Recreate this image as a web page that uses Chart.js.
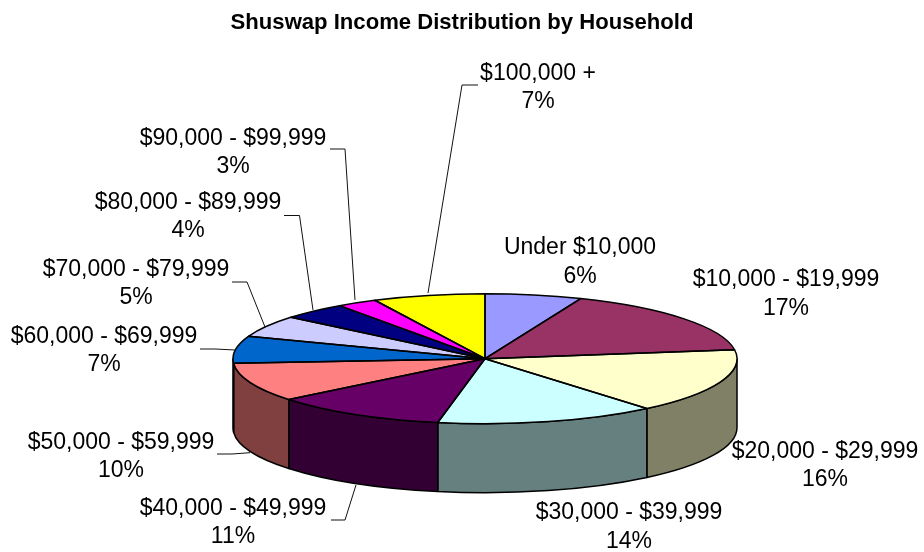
<!DOCTYPE html>
<html>
<head>
<meta charset="utf-8">
<style>html,body{margin:0;padding:0;background:#fff}canvas{display:block}</style>
<script src="https://cdn.jsdelivr.net/npm/chart.js@4"></script>
</head>
<body>
<canvas id="c" width="924" height="552"></canvas>
<script>
const chartTitle = 'Shuswap Income Distribution by Household';
const categories = ['Under $10,000','$10,000 - $19,999','$20,000 - $29,999','$30,000 - $39,999','$40,000 - $49,999','$50,000 - $59,999','$60,000 - $69,999','$70,000 - $79,999','$80,000 - $89,999','$90,000 - $99,999','$100,000 +'];
const shares = [6.2,16.6,16.1,14.1,11.2,9.7,6.7,5.4,4.2,2.6,7.2];
const topColors = ['#9999FF','#993366','#FFFFCC','#CCFFFF','#660066','#FF8080','#0066CC','#CCCCFF','#000080','#FF00FF','#FFFF00'];
const wallColors = ['#4D4D80','#4D1A33','#808066','#668080','#330033','#804040','#003366','#666680','#000040','#800080','#808000'];
const labelCenters = [[580,248],[786,280],[825,451.5],[629,513],[233,508.5],[121,442.5],[104,336.5],[136,269.5],[188,202.5],[233,138.5],[538,73.5]];
const leaders = [null,null,null,null,
  [[331,520],[345,520],[356,485]],
  [[217,454],[232,454],[250,452.7]],
  [[200,349],[215,349],[235,350]],
  [[232,282],[247,282],[265,327]],
  [[284,215.5],[299.5,215.5],[313,310]],
  [[330,149],[345,149],[355,300]],
  [[478,85],[462,85],[428,293]]];
const FONT = '"Liberation Sans", Arial, sans-serif';
const G = {cx:485, cy:358.7, rx:252, ry:65, depth:69};

const pie3d = {
  id:'pie3d',
  beforeDatasetsDraw(chart){
    const ctx = chart.ctx, arcs = chart.getDatasetMeta(0).data;
    ctx.save();
    ctx.lineWidth = 1.5; ctx.strokeStyle = '#000'; ctx.lineJoin = 'round';
    arcs.forEach((arc,i)=>{
      const p = arc.getProps(['startAngle','endAngle']);
      const a = Math.max(p.startAngle,0), b = Math.min(p.endAngle,Math.PI);
      if (b <= a) return;
      ctx.beginPath();
      ctx.ellipse(G.cx,G.cy,G.rx,G.ry,0,a,b);
      ctx.ellipse(G.cx,G.cy+G.depth,G.rx,G.ry,0,b,a,true);
      ctx.closePath();
      ctx.fillStyle = wallColors[i];
      ctx.fill(); ctx.stroke();
    });
    ctx.restore();
    const a0 = arcs[0].getProps(['x','y','outerRadius']);
    ctx.save();
    ctx.translate(G.cx,G.cy);
    ctx.scale(G.rx/a0.outerRadius,G.ry/a0.outerRadius);
    ctx.translate(-a0.x,-a0.y);
  },
  afterDatasetsDraw(chart){
    const ctx = chart.ctx, arcs = chart.getDatasetMeta(0).data;
    ctx.restore();
    ctx.save();
    ctx.lineWidth = 1.5; ctx.strokeStyle = '#000'; ctx.lineJoin = 'round';
    arcs.forEach(arc=>{
      const p = arc.getProps(['startAngle','endAngle']);
      ctx.beginPath();
      ctx.moveTo(G.cx,G.cy);
      ctx.ellipse(G.cx,G.cy,G.rx,G.ry,0,p.startAngle,p.endAngle);
      ctx.closePath();
      ctx.stroke();
    });
    ctx.lineWidth = 1; ctx.strokeStyle = '#111';
    leaders.forEach(pts=>{
      if(!pts) return;
      ctx.beginPath();
      pts.forEach((q,k)=> k? ctx.lineTo(q[0],q[1]) : ctx.moveTo(q[0],q[1]));
      ctx.stroke();
    });
    ctx.fillStyle = '#000';
    ctx.font = '23px '+FONT;
    ctx.textAlign = 'center'; ctx.textBaseline = 'middle';
    categories.forEach((name,i)=>{
      const [x,y] = labelCenters[i];
      ctx.fillText(name,x,y);
      ctx.fillText(Math.round(shares[i])+'%',x,y+28.5);
    });
    ctx.restore();
  }
};

new Chart(document.getElementById('c'),{
  type:'pie',
  data:{labels:categories,datasets:[{data:shares,backgroundColor:topColors,borderWidth:0,clip:false}]},
  options:{
    responsive:false,animation:false,
    layout:{padding:0},
    plugins:{
      legend:{display:false},tooltip:{enabled:false},
      title:{display:true,text:chartTitle,color:'#000',font:{family:FONT,size:22.1,weight:'bold'},padding:{top:10,bottom:10}}
    }
  },
  plugins:[pie3d]
});
</script>
</body>
</html>
